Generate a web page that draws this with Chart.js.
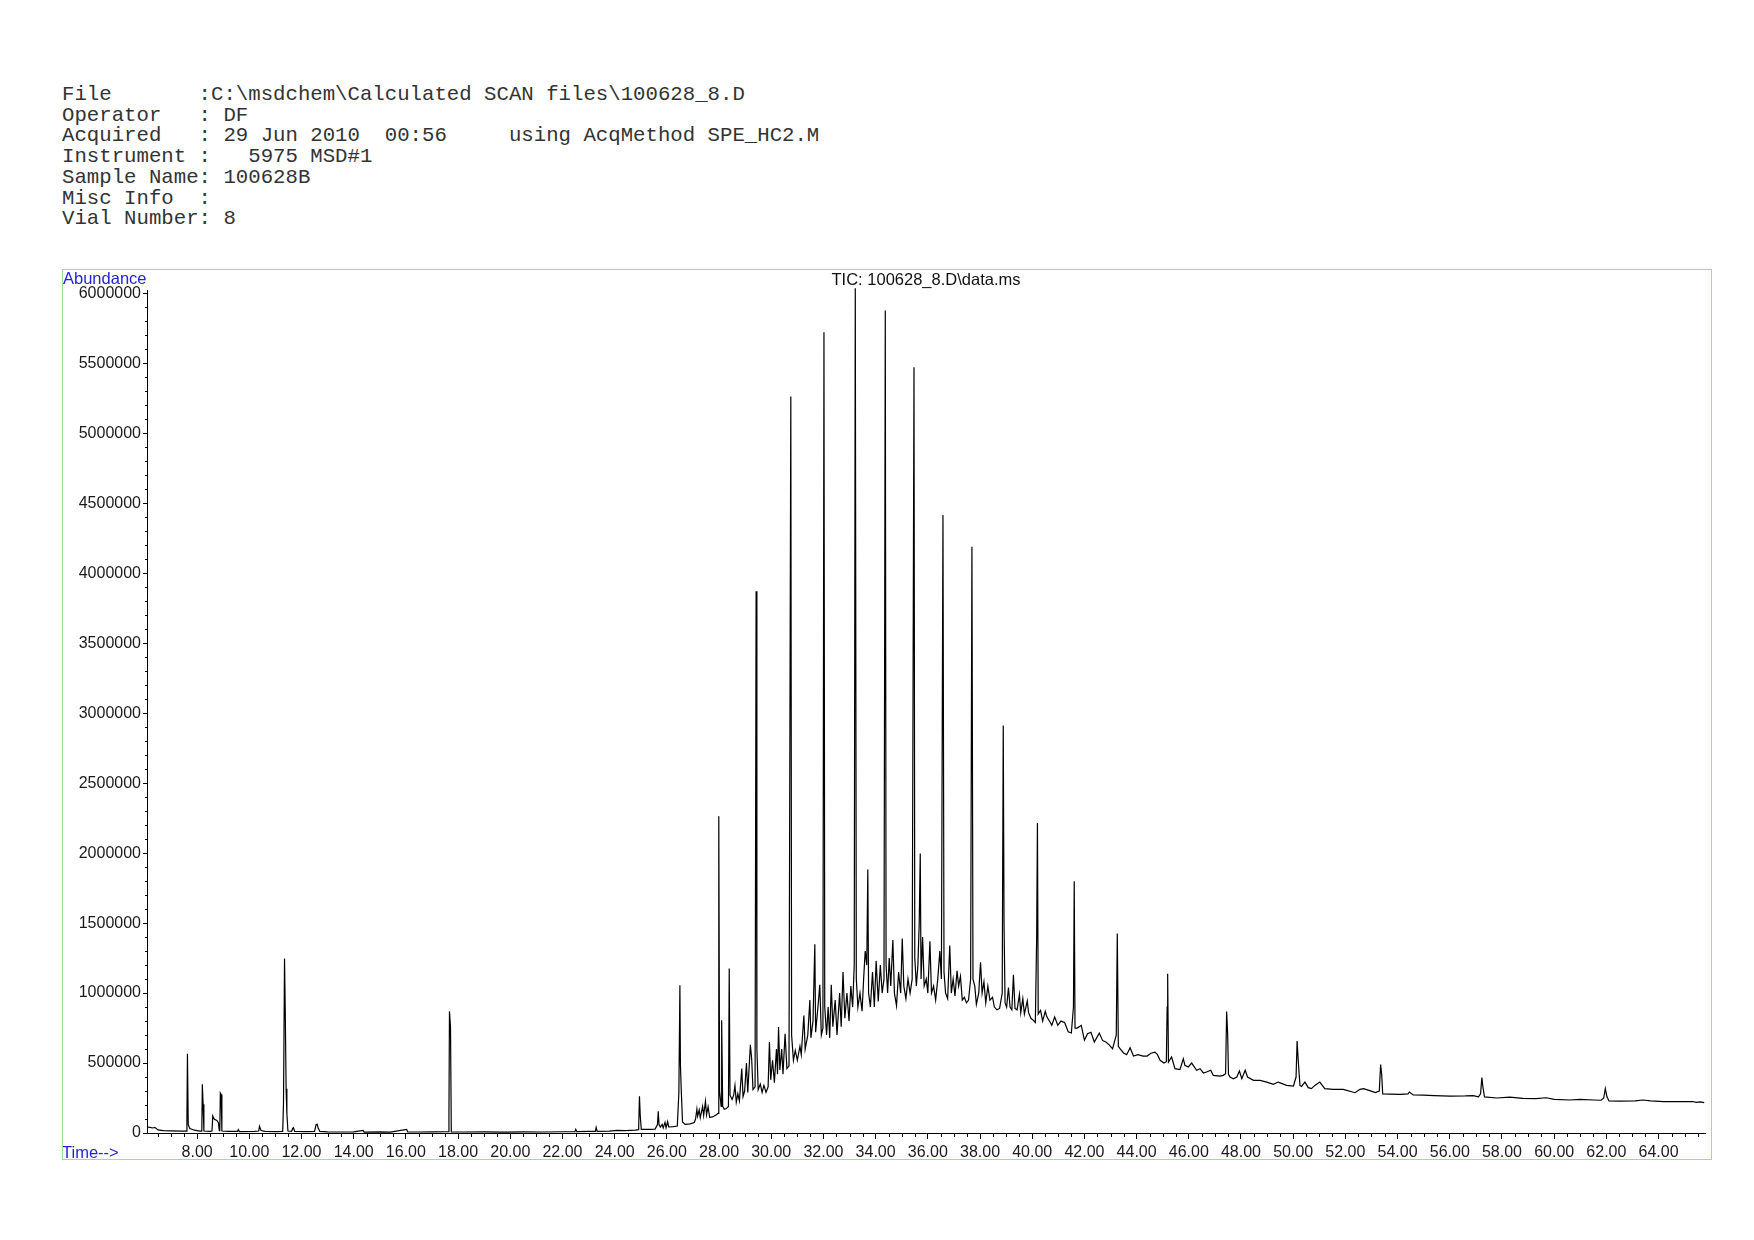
<!DOCTYPE html>
<html>
<head>
<meta charset="utf-8">
<script src="https://cdn.jsdelivr.net/npm/chart.js@4.4.1/dist/chart.umd.min.js"></script>
<style>
  body { margin: 0; background: #fff; width: 1754px; height: 1240px; position: relative; overflow: hidden; }
  #header { position: absolute; left: 62px; top: 85px; margin: 0; font-family: 'Liberation Mono', 'Courier New', monospace; font-size: 20.7px; line-height: 20.7px; color: #333; }
  #plot { position: absolute; left: 62px; top: 269px; width: 1650px; height: 891px; }
  #frame { position: absolute; left: 62px; top: 269px; width: 1650px; height: 891px; border: 1px solid #98e098; box-sizing: border-box; pointer-events: none; }
</style>
</head>
<body>
<pre id="header">File       :C:\msdchem\Calculated SCAN files\100628_8.D
Operator   : DF
Acquired   : 29 Jun 2010  00:56     using AcqMethod SPE_HC2.M
Instrument :   5975 MSD#1
Sample Name: 100628B
Misc Info  :
Vial Number: 8</pre>
<div id="plot"><canvas id="tic" width="1650" height="891"></canvas></div>
<div id="frame"></div>
<script>
const titleText = 'TIC: 100628_8.D\\data.ms';

// x ticks (minutes) and y ticks (abundance)
const timeTicks = [8, 10, 12, 14, 16, 18, 20, 22, 24, 26, 28, 30, 32, 34, 36, 38, 40, 42, 44, 46, 48, 50, 52, 54, 56, 58, 60, 62, 64];
const abundanceTicks = [0, 500000, 1000000, 1500000, 2000000, 2500000, 3000000, 3500000, 4000000, 4500000, 5000000, 5500000, 6000000];

// [time, abundance]
const earlyRun = [
  [6.08,43000],[6.2,40000],[6.3,36000],[6.38,40000],[6.5,22000],[6.7,17000],[7.0,15000],[7.4,13000],
  [7.58,14000],[7.61,119000],[7.63,567000],[7.66,60000],[7.72,32000],[7.9,20000],[8.1,14000],
  [8.18,14000],[8.2,348000],[8.23,205000],[8.26,14000],[8.5,12000],[8.57,14000],[8.6,122000],
  [8.66,98000],[8.76,90000],[8.82,71000],[8.85,16000],[8.87,20000],[8.89,286000],[8.92,276000],
  [8.95,14000],[9.2,12000],[9.55,12000],[9.58,24000],[9.62,10000],[10.2,12000],[10.36,14000],
  [10.39,48000],[10.45,18000],[10.6,12000],[11.0,10000],[11.28,12000],[11.31,210000],[11.35,1248000],
  [11.38,840000],[11.41,317000],[11.44,138000],[11.48,14000],[11.62,12000],[11.66,31000],[11.69,38000],
  [11.74,12000],[12.2,10000],[12.5,12000],[12.56,60000],[12.6,62000],[12.64,36000],[12.7,12000],
  [13.0,8000],[13.5,7000],[14.0,8000],[14.36,19000],[14.4,6000],[15.0,8000],[15.4,6000],[16.03,26000],
  [16.07,8000],[16.5,7000],[17.0,8000],[17.62,9000],[17.65,119000],[17.67,870000],[17.71,753000],
  [17.74,8000],[18.2,7000],[19.0,8000],[19.8,6000],[20.5,8000],[21.2,7000],[22.0,9000],[22.48,10000],
  [22.51,26000],[22.55,10000],[23.0,11000],[23.26,12000],[23.29,40000],[23.33,12000],[23.8,14000],
  [24.1,19000],[24.4,17000],[24.8,20000],[24.9,24000]
];

const humpRun = [
  [24.92,40000],[24.95,262000],[24.98,125000],[25.02,26000],[25.3,26000],[25.55,28000],[25.64,60000],
  [25.67,155000],[25.7,60000],[25.75,43000],[25.82,62000],[25.86,36000],[25.93,76000],[25.97,38000],
  [26.03,81000],[26.07,43000],[26.25,45000],[26.4,50000],[26.46,286000],[26.5,1056000],[26.52,490000],
  [26.55,316000],[26.6,79000],[26.7,62000],[26.9,65000],[27.05,75000],[27.1,100000],[27.15,170000],
  [27.18,120000],[27.24,165000],[27.28,110000],[27.37,190000],[27.41,125000],[27.48,227000],
  [27.52,130000],[27.58,187000],[27.64,112000],[27.75,115000],[27.9,130000],[27.96,140000],
  [27.99,2264000],[28.02,300000],[28.08,190000],[28.1,805000],[28.14,190000],[28.2,170000],
  [28.28,175000],[28.36,190000],[28.39,1176000],[28.42,270000],[28.5,240000],[28.56,270000],
  [28.61,340000],[28.66,220000],[28.72,280000],[28.78,230000],[28.87,460000],[28.92,260000],
  [28.98,300000],[29.05,500000],[29.1,290000],[29.2,630000],[29.25,530000],[29.3,310000],[29.38,330000],
  [29.42,3872000],[29.45,600000],[29.5,310000],[29.58,350000],[29.65,290000],[29.72,340000],
  [29.8,290000],[29.88,330000],[29.93,650000],[29.98,380000],[30.05,520000],[30.12,360000],
  [30.2,600000],[30.24,420000],[30.28,758000],[30.33,450000],[30.4,600000],[30.45,420000],
  [30.53,710000],[30.6,460000],[30.68,480000],[30.75,5264000],[30.78,700000],[30.85,520000],
  [30.92,590000],[31.0,520000],[31.1,620000],[31.15,560000],[31.25,840000],[31.3,600000],[31.4,700000],
  [31.48,950000],[31.52,680000],[31.6,800000],[31.67,1349000],[31.7,720000],[31.78,880000],
  [31.86,1060000],[31.92,700000],[31.98,750000],[32.02,5723000],[32.05,900000],[32.12,700000],
  [32.18,900000],[32.24,680000],[32.3,1060000],[32.36,760000],[32.45,950000],[32.52,700000],
  [32.62,1000000],[32.68,760000],[32.75,1150000],[32.82,820000],[32.9,1000000],[32.98,800000],
  [33.05,1050000],[33.12,900000],[33.18,1200000],[33.22,6038000],[33.26,1100000],[33.32,900000],
  [33.4,1000000],[33.48,870000],[33.54,1100000],[33.6,1300000],[33.66,1200000],[33.7,1883000],
  [33.73,1000000],[33.8,900000],[33.88,1150000],[33.95,900000],[34.02,1230000],[34.1,940000],
  [34.18,1200000],[34.25,1000000],[34.32,1100000],[34.37,5878000],[34.4,1200000],[34.46,1000000],
  [34.52,1250000],[34.58,1050000],[34.66,1380000],[34.72,1000000],[34.8,910000],[34.88,1150000],
  [34.96,1000000],[35.02,1390000],[35.08,1050000],[35.16,960000],[35.24,1100000],[35.32,1000000],
  [35.4,1100000],[35.47,5473000],[35.5,1250000],[35.56,1050000],[35.62,1200000],[35.67,1500000],
  [35.71,1997000],[35.74,1100000],[35.8,1400000],[35.86,1050000],[35.94,1100000],[36.0,1000000],
  [36.08,1370000],[36.14,1000000],[36.22,1050000],[36.3,950000],[36.38,1100000],[36.46,1300000],
  [36.52,1100000],[36.58,4416000],[36.62,1150000],[36.68,1000000],[36.76,960000],[36.84,1340000],
  [36.9,1000000],[36.97,1100000],[37.04,980000],[37.12,1160000],[37.18,1050000],[37.25,1120000],
  [37.32,950000],[37.4,970000],[37.48,930000],[37.56,950000],[37.64,1100000],[37.69,4190000],
  [37.73,1100000],[37.8,1050000],[37.86,920000],[37.95,1000000],[38.02,1220000],[38.08,1000000],
  [38.15,1080000],[38.22,930000],[38.3,1050000],[38.38,950000],[38.48,970000],[38.55,900000],
  [38.65,880000],[38.75,890000],[38.85,1000000],[38.89,2912000],[38.92,1500000],[38.96,930000],
  [39.02,900000],[39.09,1040000],[39.15,900000],[39.22,880000],[39.28,1130000],[39.34,890000],
  [39.42,880000],[39.51,990000],[39.56,860000],[39.64,960000],[39.7,850000],[39.81,944000],
  [39.86,860000],[39.95,820000],[40.04,806000],[40.12,790000],[40.17,1400000],[40.2,2216000],
  [40.23,850000],[40.32,877000],[40.4,800000],[40.5,870000],[40.56,830000],[40.66,800000],
  [40.75,770000],[40.86,829000],[40.98,770000],[41.1,800000],[41.24,790000],[41.38,723000],
  [41.5,715000],[41.58,900000],[41.61,1800000],[41.64,750000],[41.72,750000],[41.88,769000],
  [42.0,663000],[42.12,710000],[42.25,720000],[42.38,650000],[42.57,714000],[42.7,660000],
  [42.82,650000],[42.95,630000],[43.08,602000],[43.22,700000],[43.26,1425000],[43.3,620000],
  [43.38,600000],[43.5,572000],[43.62,560000],[43.75,610000],[43.88,550000],[44.05,560000],
  [44.25,550000],[44.4,550000],[44.55,570000]
];

const tailRun = [
  [44.7,578000],[44.8,560000],[44.9,520000],[45.05,500000],[45.14,510000],[45.17,900000],[45.19,1139000],
  [45.22,507000],[45.34,543000],[45.47,460000],[45.66,453000],[45.79,531000],[45.85,483000],
  [45.98,472000],[46.11,500000],[46.3,448000],[46.43,460000],[46.56,429000],[46.68,436000],
  [46.84,448000],[46.94,412000],[47.2,407000],[47.32,412000],[47.41,424000],[47.45,868000],
  [47.49,700000],[47.52,420000],[47.58,400000],[47.71,388000],[47.84,400000],[47.94,443000],
  [48.03,388000],[48.16,448000],[48.25,400000],[48.48,376000],[48.73,376000],[48.99,364000],
  [49.24,348000],[49.43,364000],[49.75,340000],[50.01,336000],[50.11,400000],[50.15,658000],
  [50.2,500000],[50.26,340000],[50.32,333000],[50.45,364000],[50.58,324000],[50.7,317000],
  [50.83,340000],[51.02,364000],[51.21,317000],[51.53,312000],[51.92,312000],[52.37,288000],
  [52.56,312000],[52.7,317000],[52.9,305000],[53.15,289000],[53.3,300000],[53.35,489000],
  [53.39,420000],[53.43,280000],[53.7,278000],[54.1,276000],[54.4,280000],[54.45,293000],
  [54.6,272000],[55.0,270000],[55.4,267000],[56.0,264000],[56.6,265000],[56.9,267000],[57.1,258000],
  [57.18,280000],[57.23,396000],[57.27,330000],[57.33,258000],[57.8,250000],[58.3,256000],
  [58.8,248000],[59.3,245000],[59.7,252000],[60.0,240000],[60.6,236000],[61.0,240000],[61.5,236000],
  [61.8,234000],[61.9,250000],[61.96,317000],[62.02,260000],[62.1,229000],[62.5,228000],
  [63.1,230000],[63.4,236000],[63.7,229000],[64.2,224000],[64.8,224000],[65.3,225000],
  [65.45,219000],[65.6,222000],[65.75,217000]
];

const trace = earlyRun.concat(humpRun, tailRun).map(p => ({ x: p[0], y: p[1] }));

const tickFont = { family: '"Liberation Sans", Arial, sans-serif', size: 16 };

// minor tick marks: half minutes and 100000 counts
const minorTimeTicks = [];
for (let t = 6.5; t < 65.8; t += 0.5) if (t % 2 !== 0) minorTimeTicks.push(t);
const minorAbundanceTicks = [];
for (let v = 100000; v < 6000000; v += 100000) if (v % 500000 !== 0) minorAbundanceTicks.push(v);

const decorations = {
  id: 'decorations',
  afterDraw(chart) {
    const { ctx, chartArea } = chart;
    const x = chart.scales.x, y = chart.scales.y;
    ctx.save();
    ctx.strokeStyle = '#000';
    ctx.lineWidth = 1;
    ctx.beginPath();
    minorTimeTicks.forEach(t => {
      const px = Math.round(x.getPixelForValue(t)) + 0.5;
      ctx.moveTo(px, chartArea.bottom);
      ctx.lineTo(px, chartArea.bottom + 4);
    });
    minorAbundanceTicks.forEach(v => {
      const py = Math.round(y.getPixelForValue(v)) + 0.5;
      ctx.moveTo(chartArea.left - 2, py);
      ctx.lineTo(chartArea.left, py);
    });
    ctx.stroke();

    ctx.font = '16.5px "Liberation Sans", Arial, sans-serif';
    ctx.fillStyle = '#2424d6';
    ctx.textAlign = 'left';
    ctx.textBaseline = 'top';
    ctx.fillText('Abundance', 1, 2);
    ctx.textBaseline = 'middle';
    ctx.fillText('Time-->', 0, 884);

    ctx.fillStyle = '#111';
    ctx.textAlign = 'center';
    ctx.textBaseline = 'top';
    ctx.fillText(titleText, (chartArea.left + chartArea.right) / 2, 3);
    ctx.restore();
  }
};

new Chart(document.getElementById('tic'), {
  type: 'line',
  data: {
    datasets: [{
      data: trace,
      borderColor: '#000',
      borderWidth: 1.2,
      pointRadius: 0,
      tension: 0,
      fill: false,
      clip: false
    }]
  },
  options: {
    responsive: false,
    animation: false,
    parsing: false,
    layout: { padding: { top: 21, right: 7, left: 0, bottom: 0 } },
    plugins: { legend: { display: false }, tooltip: { enabled: false }, title: { display: false } },
    scales: {
      x: {
        type: 'linear',
        min: 6.08,
        max: 65.78,
        afterBuildTicks: s => { s.ticks = timeTicks.map(v => ({ value: v })); },
        afterFit: s => { s.height = 27; },
        border: { display: true, color: '#000', width: 1 },
        grid: { display: true, drawOnChartArea: false, drawTicks: true, tickLength: 6, color: '#000' },
        ticks: { autoSkip: false, maxRotation: 0, padding: 4, color: '#1a1a1a', font: tickFont, callback: v => v.toFixed(2) }
      },
      y: {
        min: 0,
        max: 6025000,
        afterBuildTicks: s => { s.ticks = abundanceTicks.map(v => ({ value: v })); },
        afterFit: s => { s.width = 85; },
        border: { display: true, color: '#000', width: 1 },
        grid: { display: true, drawOnChartArea: false, drawTicks: true, tickLength: 4, color: '#000' },
        ticks: { autoSkip: false, padding: 2, color: '#1a1a1a', font: tickFont, callback: v => String(v) }
      }
    }
  },
  plugins: [decorations]
});
</script>
</body>
</html>
